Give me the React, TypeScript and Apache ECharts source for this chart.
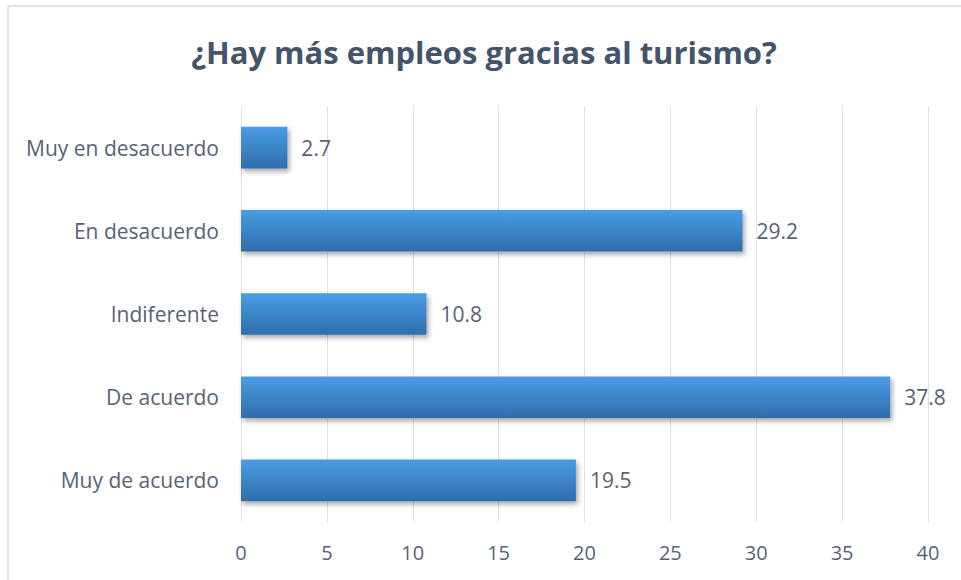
import React, { useEffect, useRef } from "react";
import * as echarts from "echarts";

const TITLE = "¿Hay más empleos gracias al turismo?";
const categories = ["Muy en desacuerdo", "En desacuerdo", "Indiferente", "De acuerdo", "Muy de acuerdo"];
const values = [2.7, 29.2, 10.8, 37.8, 19.5];
const axisMin = 0;
const axisMax = 40;
const axisInterval = 5;

const FONT = "'Open Sans', Lato, sans-serif";
const TEXT_COLOR = "#596275";

export default function App() {
  const ref = useRef<HTMLDivElement>(null);
  useEffect(() => {
    if (!ref.current) return;
    const chart = echarts.init(ref.current, null, { renderer: "svg" });
    chart.setOption({
      animation: false,
      backgroundColor: "#ffffff",
      graphic: [
        {
          type: "rect",
          shape: { x: 8, y: 6, width: 1000, height: 1000 },
          style: { fill: "none", stroke: "#dfe3ea", lineWidth: 2 },
          z: -1,
        },
        {
          type: "text",
          x: 484,
          y: 52,
          style: {
            text: TITLE,
            fontFamily: FONT,
            fontWeight: "bold",
            fontSize: 31,
            fill: "#44546a",
            align: "center",
            verticalAlign: "middle",
          },
        },
      ],
      grid: { left: 241, right: 33, top: 106, bottom: 58, containLabel: false },
      xAxis: {
        type: "value",
        min: axisMin,
        max: axisMax,
        interval: axisInterval,
        axisLine: { show: false },
        axisTick: { show: false },
        splitLine: { show: true, lineStyle: { color: "#dde2ea", width: 1 } },
        axisLabel: { color: TEXT_COLOR, fontFamily: FONT, fontSize: 20, margin: 20 },
      },
      yAxis: {
        type: "category",
        data: categories,
        inverse: true,
        axisLine: { show: false },
        axisTick: { show: false },
        axisLabel: { color: TEXT_COLOR, fontFamily: FONT, fontSize: 21, margin: 22 },
      },
      series: [
        {
          type: "bar",
          data: values,
          barWidth: "50%",
          itemStyle: {
            color: new echarts.graphic.LinearGradient(0, 0, 0, 1, [
              { offset: 0, color: "#4a9ce6" },
              { offset: 1, color: "#2f6dab" },
            ]),
            shadowColor: "rgba(0,0,0,0.35)",
            shadowBlur: 5,
            shadowOffsetX: 2,
            shadowOffsetY: 3,
          },
          label: {
            show: true,
            position: "right",
            distance: 14,
            color: TEXT_COLOR,
            fontFamily: FONT,
            fontSize: 21,
          },
        },
      ],
    });
    return () => chart.dispose();
  }, []);
  return (
    <div
      ref={ref}
      style={{ position: "fixed", left: 0, top: 0, width: 961, height: 580 }}
    />
  );
}
